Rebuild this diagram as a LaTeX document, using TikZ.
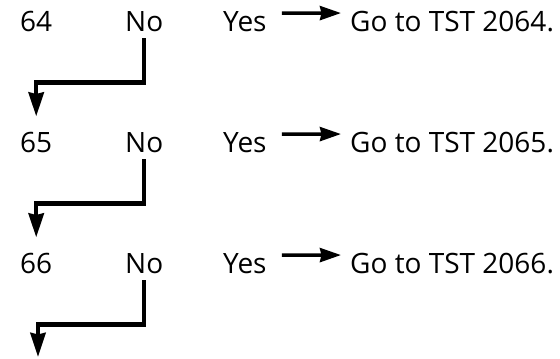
\documentclass[tikz,border=0pt]{standalone}
\usepackage{fontspec}
\setmainfont{Open Sans}
\usetikzlibrary{arrows.meta,positioning,calc}
\tikzset{
  label/.style={inner sep=0pt,anchor=base west,font=\fontsize{28}{32}\selectfont},
  flow/.style={-{Stealth[length=24pt,width=15pt,inset=1.5pt]},line width=4.5pt},
  jump/.style={-{Stealth[length=21pt,width=14pt,inset=1.5pt]},line width=3.5pt}
}
\begin{document}
\begin{tikzpicture}[x=1pt,y=-1pt]
    \useasboundingbox (0,0) rectangle (560,359);
    % row 64
    \node[label] (n64) at (20,31) {64};
    \node[label] (no64) at (125,31) {No};
    \node[label] (yes64) at (223,31) {Yes};
    \node[label] (go64) at (350,31) {Go to TST 2064.};
    % row 65
    \node[label] (n65) at (20,152) {65};
    \node[label] (no65) at (125,152) {No};
    \node[label] (yes65) at (223,152) {Yes};
    \node[label] (go65) at (350,152) {Go to TST 2065.};
    % row 66
    \node[label] (n66) at (20,273) {66};
    \node[label] (no66) at (125,273) {No};
    \node[label] (yes66) at (223,273) {Yes};
    \node[label] (go66) at (350,273) {Go to TST 2066.};
    \coordinate (out) at (38,357);
    \draw[jump] ([xshift=15pt,yshift=8pt]yes64.east) -- ([xshift=-9pt,yshift=8pt]go64.west);
    \draw[jump] ([xshift=15pt,yshift=8pt]yes65.east) -- ([xshift=-9pt,yshift=8pt]go65.west);
    \draw[jump] ([xshift=15pt,yshift=8pt]yes66.east) -- ([xshift=-9pt,yshift=8pt]go66.west);
    \draw[flow] ([yshift=-7pt]no64.south) -- ++(0,44) -| ([yshift=15pt]n65.north);
    \draw[flow] ([yshift=-7pt]no65.south) -- ++(0,44) -| ([yshift=15pt]n66.north);
    \draw[flow] ([yshift=-7pt]no66.south) -- ++(0,44) -| (out);
  \end{tikzpicture}
\end{document}
